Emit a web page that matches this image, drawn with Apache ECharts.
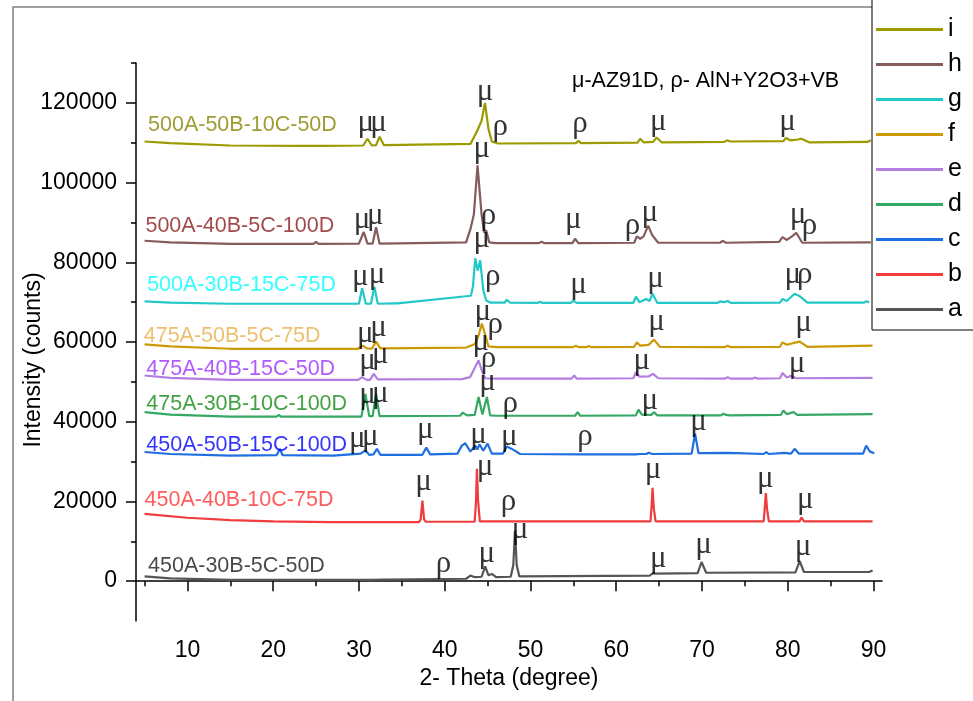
<!DOCTYPE html>
<html>
<head>
<meta charset="utf-8">
<script src="https://cdn.jsdelivr.net/npm/echarts/dist/echarts.min.js"></script>
<style>
  html, body { margin: 0; padding: 0; background: #fff; }
  #main { width: 973px; height: 701px; }
</style>
</head>
<body>
<div id="main"></div>
<script>
// 2-theta / intensity pairs, one array per sample (offset stacked)
const seriesA = [[5,1200],[8,700],[15,300],[26.7,300],[31.1,300],[31.3,800],[31.5,300],[32.8,400],[33.0,700],[33.2,400],[42.5,600],[43.0,1400],[43.5,1000],[44.3,1100],[44.72,3700],[45.1,1500],[45.5,1800],[46,1000],[47.7,1100],[48.0,4000],[48.2,12700],[48.4,4000],[48.7,1200],[63.9,1400],[64.3,2000],[64.6,1900],[69.5,2000],[69.95,4800],[70.5,2100],[80.9,2200],[81.4,5000],[81.9,2300],[89.5,2300],[89.9,2700]];
const seriesB = [[5,16900],[10,15900],[15,15300],[20,15000],[26.7,14800],[37.0,14800],[37.2,15500],[37.4,20200],[37.6,15500],[37.8,14900],[43.5,14900],[43.65,20000],[43.76,28200],[43.9,20000],[44.1,15000],[64.0,15000],[64.15,19500],[64.24,23400],[64.4,18000],[64.6,15000],[77.2,15000],[77.35,19000],[77.45,22100],[77.6,18000],[77.8,15000],[81.4,15000],[81.6,16000],[81.9,15000],[89.9,15000]];
const seriesC = [[5,32400],[8,31900],[15,31500],[20.4,31600],[20.78,33200],[21.1,31600],[27,31500],[30.2,32000],[30.75,32800],[31.2,31700],[31.7,31800],[32.1,33200],[32.5,31700],[37.4,31700],[37.86,33500],[38.3,31800],[41.5,32000],[42.0,34000],[42.4,34600],[43.0,32500],[43.56,34000],[43.8,33000],[44.06,34300],[44.5,32700],[45.0,34500],[45.5,32000],[46.8,32000],[47.25,33800],[47.98,33000],[48.8,31900],[55.8,31800],[62.3,31800],[62.5,32300],[62.8,31900],[63.5,31900],[63.8,32200],[64.2,31900],[68.8,32000],[69.2,37000],[69.6,32100],[73.1,32200],[77.2,31900],[77.5,32400],[77.8,31900],[79.6,32200],[80.4,32000],[80.8,33200],[81.3,32000],[88.8,32000],[89.15,34000],[89.6,32500],[90.1,32100]];
const seriesD = [[5,42400],[8,41800],[15,41300],[20.4,41300],[20.66,41700],[20.9,41300],[30.3,41300],[30.75,47000],[31.2,41400],[31.6,41400],[32.0,47000],[32.4,41400],[41.8,41500],[42.1,42300],[42.6,41600],[43.5,41700],[43.95,46200],[44.4,41800],[44.6,41800],[44.92,46200],[45.3,41600],[46,41500],[55.2,41500],[55.5,42400],[55.8,41500],[62.3,41600],[62.6,43000],[63.0,41800],[64.1,41700],[64.4,42400],[64.8,41600],[72.2,41600],[72.5,42000],[72.8,41700],[73.0,42000],[73.3,41600],[79.2,41700],[79.5,42800],[79.9,41900],[80.7,42400],[81.1,41700],[89.9,41900]];
const seriesE = [[5,51600],[8,51000],[15,50500],[29.9,50500],[30.37,51200],[30.9,50500],[31.3,50500],[31.72,52000],[32.2,50600],[42.0,50700],[42.98,51200],[43.5,53500],[43.95,55400],[44.3,53000],[44.72,50900],[46,50800],[54.8,50800],[55.1,51600],[55.4,50800],[62.0,50900],[62.3,52400],[62.7,51300],[63.8,51400],[64.3,52000],[64.9,50900],[72.7,50800],[73.0,51200],[73.3,50800],[75.9,50800],[76.2,51100],[76.5,50800],[79.1,50900],[79.4,52200],[79.9,51100],[80.4,51500],[81.0,50900],[89.9,51000]];
const seriesF = [[5,59400],[8,58900],[15,58300],[29.9,58300],[30.44,59100],[30.9,58400],[31.5,58300],[32.0,60100],[32.5,58400],[42.5,58600],[43.56,59500],[44.0,62000],[44.34,64600],[44.7,62000],[45.1,58900],[46,58700],[55.0,58700],[55.3,59100],[55.6,58700],[56.5,58700],[56.8,59000],[57.1,58700],[62.1,58800],[62.4,59900],[62.8,59100],[63.8,59300],[64.4,60600],[65.1,58800],[72.7,58700],[73.0,59100],[73.3,58700],[79.1,58800],[79.4,59900],[79.9,59300],[80.6,59700],[81.4,60100],[82.3,58800],[89.9,59100]];
const seriesG = [[5,70200],[8,69900],[15,69600],[22.4,69600],[22.6,70000],[22.8,69600],[24.7,69600],[24.9,70100],[25.2,69600],[30.0,69600],[30.37,73500],[30.8,69600],[31.4,69600],[31.8,73900],[32.2,69600],[34.0,69700],[34.2,70100],[34.5,69700],[43.06,71600],[43.3,74000],[43.56,81000],[43.85,77900],[44.14,80500],[44.5,73000],[44.84,70400],[45.3,69900],[47.0,69900],[47.25,70600],[47.6,69900],[50.8,69800],[51.1,70100],[51.4,69800],[54.7,69800],[55.0,70400],[55.4,69800],[62.0,69800],[62.3,71400],[62.7,70000],[63.5,70800],[63.9,70300],[64.24,72100],[64.8,69800],[71.8,69800],[72.1,70200],[72.6,70000],[73.0,70300],[73.4,69800],[79.1,69900],[79.4,70800],[79.9,70300],[80.8,72100],[81.4,71500],[82.3,69900],[88.9,69900],[89.2,70200],[89.5,69900]];
const seriesH = [[5,85400],[8,85000],[15,84600],[24.7,84600],[25.0,85100],[25.3,84600],[30.0,84700],[30.56,87600],[31.0,84700],[31.6,84700],[32.0,88800],[32.4,84700],[42.5,85000],[43.0,88300],[43.4,92000],[43.83,104300],[44.3,92000],[44.6,87500],[44.84,88000],[45.2,85000],[46,84800],[51.0,84800],[51.3,85200],[51.6,84800],[54.9,84800],[55.2,85900],[55.6,84800],[62.1,84900],[62.4,86500],[62.8,85900],[63.2,86500],[63.73,89200],[64.2,86800],[64.9,84900],[72.1,84900],[72.4,85400],[72.8,84900],[79.0,85100],[79.4,86300],[79.9,85600],[80.5,86500],[81.0,87400],[81.7,84900],[89.7,85000]];
const seriesI = [[5,110300],[8,109900],[15,109300],[23.3,109200],[23.5,109600],[23.7,109200],[25.3,109200],[25.5,109700],[25.7,109200],[30.5,109300],[31.0,111000],[31.5,109300],[32.0,109400],[32.4,111500],[32.9,109400],[43.0,109700],[43.8,113000],[44.3,115500],[44.7,120000],[45.1,113500],[45.5,110300],[46.2,109800],[55.3,109900],[55.6,110500],[55.9,109900],[62.5,110000],[62.8,111000],[63.2,110100],[64.3,110200],[64.7,111300],[65.3,110100],[72.6,110200],[72.9,110600],[73.3,110300],[79.5,110400],[79.8,111200],[80.3,110600],[81.2,110800],[81.6,111000],[82.5,110100],[89.3,110200],[89.7,110600]];

const seriesNames = ['a', 'b', 'c', 'd', 'e', 'f', 'g', 'h', 'i'];
const seriesData = [seriesA, seriesB, seriesC, seriesD, seriesE, seriesF, seriesG, seriesH, seriesI];
const lineColors = ['#555555', '#f03c3c', '#1e6fe0', '#35a865', '#b27ee0', '#cc9a06', '#22c8c8', '#855b5b', '#9b9b00'];
const textColors = ['#1a1a1a', '#ff3333', '#0000ff', '#148a14', '#9b30ff', '#e8b04a', '#00ffff', '#8b1a1a', '#858500'];

// sample captions: [x, y, text]
const sampleLabels = [
  [5.4, 3700, '450A-30B-5C-50D'],
  [5.0, 20400, '450A-40B-10C-75D'],
  [5.2, 34200, '450A-50B-15C-100D'],
  [5.2, 44500, '475A-30B-10C-100D'],
  [5.2, 53300, '475A-40B-15C-50D'],
  [4.9, 61400, '475A-50B-5C-75D'],
  [5.3, 74200, '500A-30B-15C-75D'],
  [5.1, 89200, '500A-40B-5C-100D'],
  [5.4, 114300, '500A-50B-10C-50D']
];

// phase marks: [x, y, symbol]
const peakLabels = [
  [39.87, 2700, 'ρ'], [44.92, 5200, 'μ'], [48.8, 11000, 'μ'], [64.9, 3900, 'μ'], [70.2, 7300, 'μ'], [81.8, 6900, 'μ'],
  [37.54, 23200, 'μ'], [44.72, 26900, 'μ'], [47.43, 18200, 'ρ'], [64.3, 26100, 'μ'], [77.4, 24000, 'μ'], [82.05, 18600, 'μ'],
  [29.8, 34000, 'μ'], [31.34, 34500, 'μ'], [37.74, 36100, 'μ'], [43.95, 34900, 'μ'], [47.55, 34500, 'μ'], [56.36, 34500, 'ρ'], [69.6, 38200, 'μ'],
  [31.0, 44900, 'μ'], [32.5, 45300, 'μ'], [45.0, 48300, 'μ'], [47.63, 42800, 'ρ'], [63.93, 43600, 'μ'],
  [31.0, 53500, 'μ'], [32.5, 54900, 'μ'], [44.2, 58300, 'μ'], [45.1, 53900, 'ρ'], [63.0, 53500, 'μ'], [81.1, 52800, 'μ'],
  [30.75, 60400, 'μ'], [32.3, 61900, 'μ'], [44.45, 65800, 'μ'], [45.9, 62500, 'ρ'], [64.7, 63300, 'μ'], [81.85, 63100, 'μ'],
  [30.17, 74600, 'μ'], [32.1, 75000, 'μ'], [44.34, 84200, 'μ'], [45.6, 74600, 'ρ'], [55.6, 72500, 'μ'], [64.6, 74200, 'μ'], [80.6, 75000, 'μ'], [82.0, 75000, 'ρ'],
  [30.37, 88800, 'μ'], [31.92, 90000, 'μ'], [44.34, 106800, 'μ'], [45.1, 90000, 'ρ'], [55.0, 88800, 'μ'], [61.9, 87500, 'ρ'], [63.93, 90600, 'μ'], [81.2, 90200, 'μ'], [82.55, 87500, 'ρ'],
  [30.8, 113200, 'μ'], [32.3, 113200, 'μ'], [44.72, 121000, 'μ'], [46.47, 112200, 'ρ'], [55.78, 113000, 'ρ'], [64.9, 113500, 'μ'], [80.0, 113500, 'μ']
];

const xTicks = [10, 20, 30, 40, 50, 60, 70, 80, 90];
const xMinorTicks = [5, 15, 25, 35, 45, 55, 65, 75, 85];
const yTicks = [0, 20000, 40000, 60000, 80000, 100000, 120000];
const yMinorTicks = [10000, 30000, 50000, 70000, 90000, 110000, 130000];

const chart = echarts.init(document.getElementById('main'), null, { renderer: 'canvas' });
const sans = 'Liberation Sans, Arial, sans-serif';

const lineSeries = seriesNames.map(function (name, i) {
  return {
    name: name,
    type: 'line',
    data: seriesData[i],
    showSymbol: false,
    symbol: 'none',
    smooth: false,
    lineStyle: { color: lineColors[i], width: 2.2 },
    itemStyle: { color: lineColors[i] },
    z: 2
  };
});

const option = {
  animation: false,
  backgroundColor: '#fff',
  grid: { left: 136, top: 63, right: 91, bottom: 80 },
  legend: {
    data: seriesNames.slice().reverse(),
    orient: 'vertical',
    left: 872,
    top: -2,
    icon: 'rect',
    itemWidth: 67,
    itemHeight: 3,
    itemGap: 10,
    padding: [19, 20, 8, 4],
    borderColor: '#000',
    borderWidth: 1,
    backgroundColor: '#fff',
    textStyle: { fontFamily: sans, fontSize: 25, lineHeight: 25, color: '#000' },
    itemTextGap: 11,
    z: 20
  },
  xAxis: [{
    type: 'value', min: 4, max: 91,
    name: '2- Theta (degree)', nameLocation: 'middle', nameGap: 44,
    nameTextStyle: { fontFamily: sans, fontSize: 23, color: '#000' },
    axisLine: { lineStyle: { color: '#000', width: 1.5 } },
    axisTick: { show: true, length: 10, customValues: xTicks, lineStyle: { color: '#000', width: 1.5 } },
    axisLabel: { customValues: xTicks, fontFamily: sans, fontSize: 23, color: '#000', margin: 18 },
    splitLine: { show: false }
  }, {
    type: 'value', min: 4, max: 91, position: 'bottom',
    axisLine: { show: false },
    axisTick: { show: true, length: 5, customValues: xMinorTicks, lineStyle: { color: '#000', width: 1.5 } },
    axisLabel: { show: false },
    splitLine: { show: false }
  }],
  yAxis: [{
    type: 'value', min: -10000, max: 130000,
    axisLine: { show: true, lineStyle: { color: '#000', width: 1.5 } },
    axisTick: { show: true, length: 10, customValues: yTicks, lineStyle: { color: '#000', width: 1.5 } },
    axisLabel: {
      customValues: yTicks, fontFamily: sans, fontSize: 23, color: '#000', margin: 19,
      formatter: function (v) { return String(v); }
    },
    splitLine: { show: false }
  }, {
    type: 'value', min: -10000, max: 130000, position: 'left',
    axisLine: { show: false },
    axisTick: { show: true, length: 5, customValues: yMinorTicks, lineStyle: { color: '#000', width: 1.5 } },
    axisLabel: { show: false },
    splitLine: { show: false }
  }],
  graphic: [{
    type: 'rect', z: 0, silent: true,
    shape: { x: 13, y: 7, width: 1000, height: 720 },
    style: { fill: 'none', stroke: '#808080', lineWidth: 1.5 }
  }, {
    type: 'text', z: 5, x: 34, y: 360, rotation: Math.PI / 2,
    style: { text: 'Intensity (counts)', fontFamily: sans, fontSize: 23, fill: '#000', align: 'center', verticalAlign: 'middle' }
  }, {
    type: 'text', z: 5, x: 572, y: 81,
    style: { text: 'μ-AZ91D, ρ- AlN+Y2O3+VB', fontFamily: sans, fontSize: 21.5, fill: '#000', align: 'left', verticalAlign: 'middle' }
  }],
  series: lineSeries.concat([{
    type: 'scatter',
    data: sampleLabels.map(function (d, i) { return { value: d, label: { color: textColors[i] } }; }),
    symbolSize: 0,
    itemStyle: { color: 'transparent' },
    label: {
      show: true, position: [0, 0], align: 'left', verticalAlign: 'middle',
      fontFamily: sans, fontSize: 21.5,
      formatter: function (p) { return p.value[2]; }
    },
    z: 5, silent: true
  }, {
    type: 'scatter',
    data: peakLabels,
    symbolSize: 0,
    itemStyle: { color: 'transparent' },
    label: {
      show: true, position: [0, 0], align: 'center', verticalAlign: 'middle', offset: [0, -7],
      fontFamily: '"Liberation Serif", "DejaVu Serif", serif', fontSize: 31, color: '#000',
      formatter: function (p) { return p.value[2]; }
    },
    z: 6, silent: true
  }])
};

chart.setOption(option);
</script>
</body>
</html>
